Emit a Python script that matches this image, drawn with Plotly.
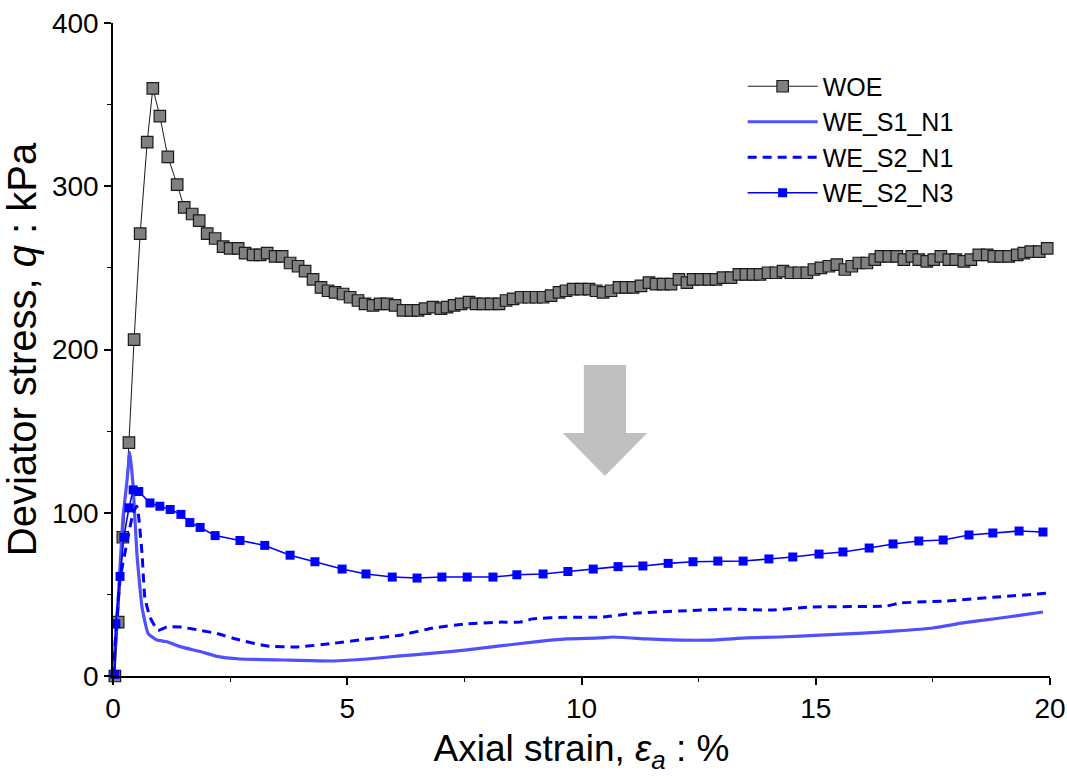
import plotly.graph_objects as go

# ---------------- data ----------------
woe_strain = [0.04, 0.11, 0.21, 0.34, 0.45, 0.58, 0.73, 0.85, 1.00, 1.17,
              1.37, 1.52, 1.69, 1.84, 2.01, 2.18, 2.35, 2.50, 2.67, 2.82,
              2.99, 3.14, 3.29, 3.46, 3.61, 3.78, 3.95, 4.10, 4.27, 4.44,
              4.59, 4.74, 4.91, 5.06, 5.23, 5.38, 5.55, 5.70, 5.85, 6.02,
              6.19, 6.36, 6.51, 6.66, 6.83, 7.00, 7.13, 7.28, 7.43, 7.60,
              7.75, 7.90, 8.07, 8.24, 8.39, 8.54, 8.71, 8.88, 9.03, 9.18,
              9.35, 9.52, 9.67, 9.82, 9.99, 10.16, 10.31, 10.46, 10.63, 10.80,
              10.95, 11.10, 11.27, 11.44, 11.59, 11.74, 11.91, 12.08, 12.25, 12.38,
              12.55, 12.72, 12.87, 13.02, 13.19, 13.36, 13.51, 13.66, 13.81, 13.98,
              14.15, 14.30, 14.47, 14.64, 14.81, 14.96, 15.11, 15.28, 15.45, 15.62,
              15.77, 15.92, 16.09, 16.26, 16.39, 16.56, 16.73, 16.88, 17.05, 17.20,
              17.37, 17.52, 17.67, 17.84, 17.99, 18.16, 18.31, 18.48, 18.66, 18.80,
              18.95, 19.12, 19.30, 19.44, 19.59, 19.77, 19.94]
woe_q = [0, 33, 85, 143, 206, 271, 327, 360, 343, 318,
         301, 287, 283, 279, 271, 268, 263, 262, 262, 259,
         258, 258, 259, 257, 257, 253, 251, 248, 243, 238,
         236, 235, 234, 232, 230, 228, 227, 228, 228, 227,
         224, 224, 224, 225, 226, 225, 226, 227, 228, 229,
         228, 228, 228, 228, 230, 231, 232, 232, 232, 232,
         233, 235, 236, 237, 237, 237, 236, 235, 236, 238,
         238, 238, 239, 241, 240, 240, 240, 243, 241, 243,
         243, 243, 243, 244, 244, 246, 246, 246, 246, 247,
         247, 248, 247, 247, 247, 249, 250, 251, 252, 249,
         251, 253, 253, 255, 257, 257, 257, 255, 257, 255,
         254, 255, 257, 255, 255, 254, 255, 258, 258, 257,
         257, 257, 258, 259, 260, 260, 262]

s1n1_strain = [0.00, 0.11, 0.21, 0.30, 0.36, 0.43, 0.51, 0.62, 0.75, 0.94,
               1.15, 1.43, 1.86, 2.22, 2.71, 3.63, 4.70, 5.42, 6.13, 6.83,
               7.56, 8.26, 8.96, 9.69, 10.39, 10.67, 11.40, 12.10, 12.74, 13.53,
               14.24, 15.09, 16.01, 16.73, 17.50, 18.14, 18.78, 19.42, 19.85]
s1n1_q = [0, 47, 96, 120, 137, 116, 75, 42, 26, 22,
          21, 18, 15, 12, 10.4, 9.8, 9.2, 10.4, 12.3, 14,
          16, 18.4, 20.8, 22.7, 23.3, 23.9, 22.7, 22, 22, 23.3,
          23.9, 25, 26.3, 27.6, 29.4, 32.5, 34.9, 37.4, 39.2]

s2n1_strain = [0.00, 0.15, 0.32, 0.43, 0.51, 0.55, 0.62, 0.68, 0.79, 0.96,
               1.15, 1.43, 1.86, 2.22, 2.71, 3.29, 3.93, 4.70, 5.42, 6.13,
               6.83, 7.56, 8.26, 8.69, 8.96, 9.69, 10.39, 11.18, 12.10, 13.17,
               14.02, 14.94, 16.52, 16.80, 17.80, 18.87, 20.00]
s2n1_q = [0, 59, 85, 100, 104, 97, 75, 48, 36, 28,
          30, 30, 28, 26, 22, 18.4, 17.8, 20, 22.7, 25,
          29.4, 31.9, 33, 33, 35, 36, 36, 38.6, 39.8, 41,
          40.4, 42.3, 42.9, 44.7, 46, 48.4, 50.8]

s2n3_strain = [0.04, 0.06, 0.15, 0.23, 0.34, 0.43, 0.55, 0.79, 1.00, 1.22,
               1.45, 1.64, 1.86, 2.18, 2.71, 3.24, 3.78, 4.31, 4.89, 5.40,
               5.96, 6.49, 7.02, 7.56, 8.11, 8.62, 9.18, 9.71, 10.25, 10.78,
               11.31, 11.85, 12.38, 12.91, 13.45, 14.00, 14.51, 15.07, 15.58, 16.14,
               16.65, 17.20, 17.72, 18.27, 18.78, 19.34, 19.85]
s2n3_q = [1, 32, 61, 85, 103, 114, 113, 106, 104, 102,
          99, 94, 91, 86, 83, 80, 74, 70, 65.5, 62.5,
          60.6, 60, 60.6, 60.6, 60.6, 62, 62.5, 64, 65.5, 67,
          67.4, 69, 70, 70.4, 70.4, 71.7, 72.9, 74.7, 76, 78.4,
          80.9, 82.7, 83.3, 86.4, 87.6, 88.8, 88.2]

x_ticks = [0, 5, 10, 15, 20]
y_ticks = [0, 100, 200, 300, 400]

# ---------------- figure ----------------
fig = go.Figure()

fig.add_trace(go.Scatter(
    x=woe_strain, y=woe_q, name="WOE", mode="lines+markers",
    line=dict(color="#1a1a1a", width=1),
    marker=dict(symbol="square", size=11.5, color="#808080",
                line=dict(color="#1a1a1a", width=1.2)),
    cliponaxis=False))

fig.add_trace(go.Scatter(
    x=s1n1_strain, y=s1n1_q, name="WE_S1_N1", mode="lines",
    line=dict(color="#5050ff", width=3.2, shape="spline", smoothing=0.4)))

fig.add_trace(go.Scatter(
    x=s2n1_strain, y=s2n1_q, name="WE_S2_N1", mode="lines",
    line=dict(color="#0000ff", width=3, dash="9px,6px", shape="spline", smoothing=0.4)))

fig.add_trace(go.Scatter(
    x=s2n3_strain, y=s2n3_q, name="WE_S2_N3", mode="lines+markers",
    line=dict(color="#0000ff", width=1.6),
    marker=dict(symbol="square", size=9, color="#0000ff"),
    cliponaxis=False))

# grey down arrow (annotation shape, data coordinates)
fig.add_shape(type="path", xref="x", yref="y",
              path="M 10.05 190.5 L 10.95 190.5 L 10.95 148.8 L 11.40 148.8 "
                   "L 10.50 122.5 L 9.60 148.8 L 10.05 148.8 Z",
              fillcolor="#c0c0c0", line=dict(width=0), layer="below")

yfont = "Liberation Sans, Arial, sans-serif"
xfont = "Liberation Sans Narrow, Arial Narrow, Liberation Sans, Arial, sans-serif"

fig.update_layout(
    width=1067, height=777,
    margin=dict(l=113, r=17, t=23, b=101),
    paper_bgcolor="white", plot_bgcolor="white",
    showlegend=True,
    legend=dict(x=0.672, y=0.938, xanchor="left", yanchor="top",
                font=dict(family=yfont, size=25, color="black"),
                bgcolor="rgba(0,0,0,0)", tracegroupgap=0, itemwidth=70),
    xaxis=dict(range=[0, 20], tickvals=x_ticks, ticks="outside", ticklen=7,
               tickwidth=1.5, tickcolor="black", automargin=False,
               minor=dict(dtick=2.5, ticks="outside", ticklen=4, tickcolor="black", tickwidth=1.2),
               showline=True, linecolor="black", linewidth=1.5, showgrid=False,
               zeroline=False,
               tickfont=dict(family=xfont, size=28, color="black"),
               title=dict(text="Axial strain, <i>ε<sub>a</sub></i> : %",
                          font=dict(family=xfont, size=37, color="black"), standoff=12)),
    yaxis=dict(range=[0, 400], tickvals=y_ticks, ticks="outside", ticklen=7,
               tickwidth=1.5, tickcolor="black", automargin=False,
               minor=dict(dtick=50, ticks="outside", ticklen=4, tickcolor="black", tickwidth=1.2),
               showline=True, linecolor="black", linewidth=1.5, showgrid=False,
               zeroline=False,
               tickfont=dict(family=yfont, size=28, color="black"),
               title=dict(text="Deviator stress, <i>q</i> : kPa",
                          font=dict(family=yfont, size=40, color="black"), standoff=6)),
)

fig.write_html("out.html")
